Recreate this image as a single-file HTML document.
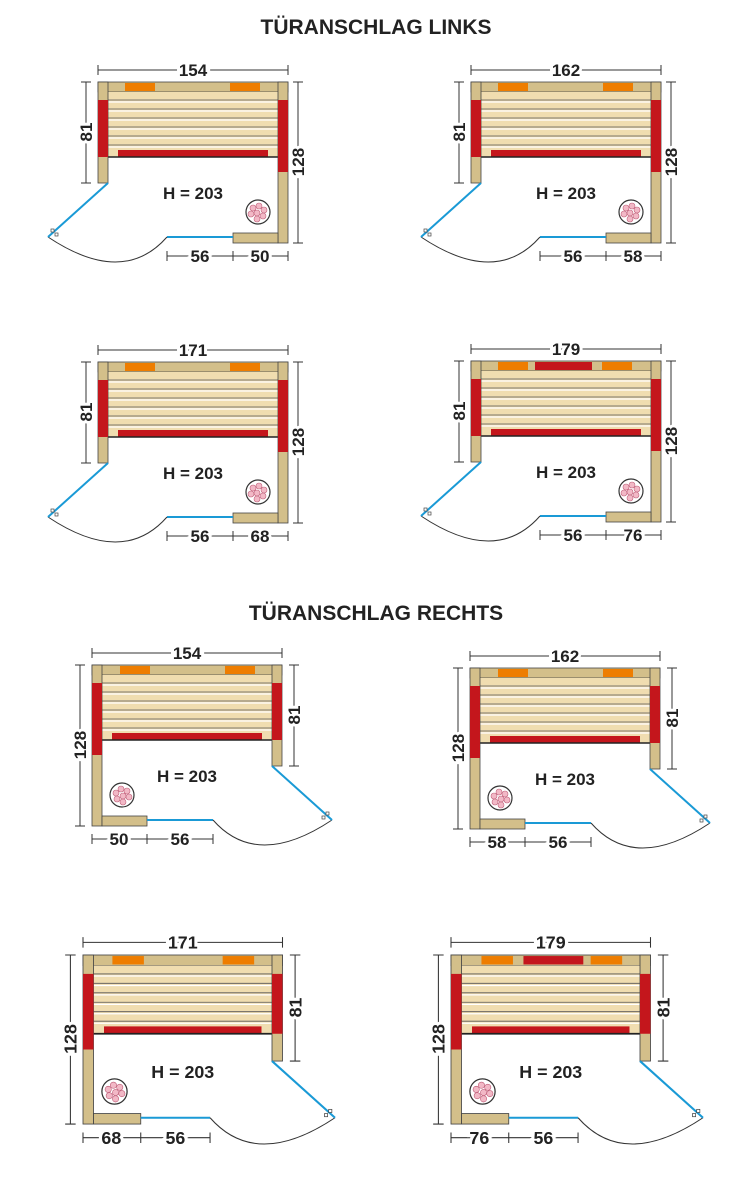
<!DOCTYPE html>
<html><head><meta charset="utf-8"><style>
html,body{margin:0;padding:0;background:#fff;width:753px;height:1200px;overflow:hidden}
svg{display:block}
.t{font-family:"Liberation Sans",sans-serif;font-weight:bold;fill:#222}
.dim{stroke:#333;stroke-width:1;fill:none}
.lb{font-family:"Liberation Sans",sans-serif;font-weight:bold;font-size:17px;fill:#222;text-anchor:middle;stroke:#fff;stroke-width:6;paint-order:stroke}
.h{font-family:"Liberation Sans",sans-serif;font-weight:bold;font-size:17px;fill:#222;text-anchor:middle}
</style></head><body>
<svg width="753" height="1200" viewBox="0 0 753 1200" xmlns="http://www.w3.org/2000/svg">
<defs>
<g id="heat">
<circle cx="160" cy="130" r="12" fill="#fff" stroke="#333" stroke-width="1.2"/>
<g fill="#f2b8c6" stroke="#c0607a" stroke-width="0.6">
<circle cx="155" cy="126" r="3"/><circle cx="161" cy="124" r="3"/><circle cx="166" cy="128" r="3"/>
<circle cx="153" cy="132" r="3"/><circle cx="159" cy="131" r="3"/><circle cx="165" cy="134" r="3"/><circle cx="159" cy="137" r="3"/>
</g></g>
<g id="base">
<rect x="0" y="0" width="190" height="10" fill="#d3bf8a" stroke="#444" stroke-width="0.8"/>
<rect x="10" y="10" width="170" height="65" fill="#f0ddb0"/>
<g stroke="#555" stroke-width="0.8">
<line x1="10" y1="18" x2="180" y2="18"/><line x1="10" y1="27" x2="180" y2="27"/><line x1="10" y1="36" x2="180" y2="36"/><line x1="10" y1="45" x2="180" y2="45"/><line x1="10" y1="54" x2="180" y2="54"/><line x1="10" y1="63" x2="180" y2="63"/></g>
<g stroke="#fff" stroke-width="1.2">
<line x1="10" y1="20" x2="180" y2="20"/><line x1="10" y1="29" x2="180" y2="29"/><line x1="10" y1="38" x2="180" y2="38"/><line x1="10" y1="47" x2="180" y2="47"/><line x1="10" y1="56" x2="180" y2="56"/><line x1="10" y1="65" x2="180" y2="65"/></g>
<rect x="20" y="68" width="150" height="7" fill="#c4161c"/>
<line x1="10" y1="75" x2="180" y2="75" stroke="#222" stroke-width="1.6"/>
<rect x="0" y="0" width="10" height="101" fill="#d3bf8a" stroke="#444" stroke-width="0.8"/>
<rect x="0" y="18" width="10" height="57" fill="#c4161c"/>
<rect x="180" y="0" width="10" height="161" fill="#d3bf8a" stroke="#444" stroke-width="0.8"/>
<rect x="180" y="18" width="10" height="72" fill="#c4161c"/>
<rect x="135" y="151" width="45" height="10" fill="#d3bf8a" stroke="#444" stroke-width="0.8"/>
<line x1="135" y1="155" x2="69" y2="155" stroke="#1a9ad6" stroke-width="2"/>
<path d="M69 155 Q25 205 -50 155" fill="none" stroke="#333" stroke-width="1"/>
<line x1="10" y1="101" x2="-50" y2="155" stroke="#1a9ad6" stroke-width="2"/>
<rect x="-47" y="147" width="3" height="3" fill="#fff" stroke="#444" stroke-width="0.7"/>
<rect x="-43" y="151" width="3" height="3" fill="#fff" stroke="#444" stroke-width="0.7"/>
<use href="#heat"/>
</g>
<g id="A"><use href="#base"/>
<rect x="27" y="1" width="30" height="8" fill="#ee7d00"/><rect x="132" y="1" width="30" height="8" fill="#ee7d00"/></g>
<g id="B"><use href="#base"/>
<rect x="27" y="1" width="30" height="8" fill="#ee7d00"/><rect x="64" y="1" width="57" height="8" fill="#c4161c"/><rect x="131" y="1" width="30" height="8" fill="#ee7d00"/></g>
<g id="dl" class="dim">
<path d="M0 -12H190M0 -17V-7M190 -17V-7M-12 0V101M-17 0H-7M-17 101H-7M200 0V161M195 0H205M195 161H205M69 174H190M69 169V179M135 169V179M190 169V179"/>
</g>
<g id="dr" class="dim">
<path d="M0 -12H190M0 -17V-7M190 -17V-7M-12 0V161M-17 0H-7M-17 161H-7M202 0V101M197 0H207M197 101H207M0 174H121M0 169V179M55 169V179M121 169V179"/>
</g>
</defs>

<text class="t" x="376" y="34" font-size="21" text-anchor="middle">TÜRANSCHLAG LINKS</text>
<text class="t" x="376" y="620" font-size="21" text-anchor="middle">TÜRANSCHLAG RECHTS</text>

<g transform="translate(98,82)"><use href="#A"/><use href="#dl"/>
<text class="lb" x="95" y="-6">154</text><text class="lb" transform="translate(-6,50) rotate(-90)">81</text><text class="lb" transform="translate(206,80) rotate(-90)">128</text>
<text class="lb" x="102" y="180">56</text><text class="lb" x="162" y="180">50</text><text class="h" x="95" y="117">H = 203</text></g>
<g transform="translate(471,82)"><use href="#A"/><use href="#dl"/>
<text class="lb" x="95" y="-6">162</text><text class="lb" transform="translate(-6,50) rotate(-90)">81</text><text class="lb" transform="translate(206,80) rotate(-90)">128</text>
<text class="lb" x="102" y="180">56</text><text class="lb" x="162" y="180">58</text><text class="h" x="95" y="117">H = 203</text></g>
<g transform="translate(98,362)"><use href="#A"/><use href="#dl"/>
<text class="lb" x="95" y="-6">171</text><text class="lb" transform="translate(-6,50) rotate(-90)">81</text><text class="lb" transform="translate(206,80) rotate(-90)">128</text>
<text class="lb" x="102" y="180">56</text><text class="lb" x="162" y="180">68</text><text class="h" x="95" y="117">H = 203</text></g>
<g transform="translate(471,361)"><use href="#B"/><use href="#dl"/>
<text class="lb" x="95" y="-6">179</text><text class="lb" transform="translate(-6,50) rotate(-90)">81</text><text class="lb" transform="translate(206,80) rotate(-90)">128</text>
<text class="lb" x="102" y="180">56</text><text class="lb" x="162" y="180">76</text><text class="h" x="95" y="117">H = 203</text></g>

<g transform="translate(92,665)"><g transform="translate(190,0) scale(-1,1)"><use href="#A"/></g><use href="#dr"/>
<text class="lb" x="95" y="-6">154</text><text class="lb" transform="translate(-6,80) rotate(-90)">128</text><text class="lb" transform="translate(208,50) rotate(-90)">81</text>
<text class="lb" x="27" y="180">50</text><text class="lb" x="88" y="180">56</text><text class="h" x="95" y="117">H = 203</text></g>
<g transform="translate(470,668)"><g transform="translate(190,0) scale(-1,1)"><use href="#A"/></g><use href="#dr"/>
<text class="lb" x="95" y="-6">162</text><text class="lb" transform="translate(-6,80) rotate(-90)">128</text><text class="lb" transform="translate(208,50) rotate(-90)">81</text>
<text class="lb" x="27" y="180">58</text><text class="lb" x="88" y="180">56</text><text class="h" x="95" y="117">H = 203</text></g>
<g transform="translate(83,955) scale(1.05)"><g transform="translate(190,0) scale(-1,1)"><use href="#A"/></g><use href="#dr"/>
<text class="lb" x="95" y="-6">171</text><text class="lb" transform="translate(-6,80) rotate(-90)">128</text><text class="lb" transform="translate(208,50) rotate(-90)">81</text>
<text class="lb" x="27" y="180">68</text><text class="lb" x="88" y="180">56</text><text class="h" x="95" y="117">H = 203</text></g>
<g transform="translate(451,955) scale(1.05)"><g transform="translate(190,0) scale(-1,1)"><use href="#B"/></g><use href="#dr"/>
<text class="lb" x="95" y="-6">179</text><text class="lb" transform="translate(-6,80) rotate(-90)">128</text><text class="lb" transform="translate(208,50) rotate(-90)">81</text>
<text class="lb" x="27" y="180">76</text><text class="lb" x="88" y="180">56</text><text class="h" x="95" y="117">H = 203</text></g>
</svg>
</body></html>
